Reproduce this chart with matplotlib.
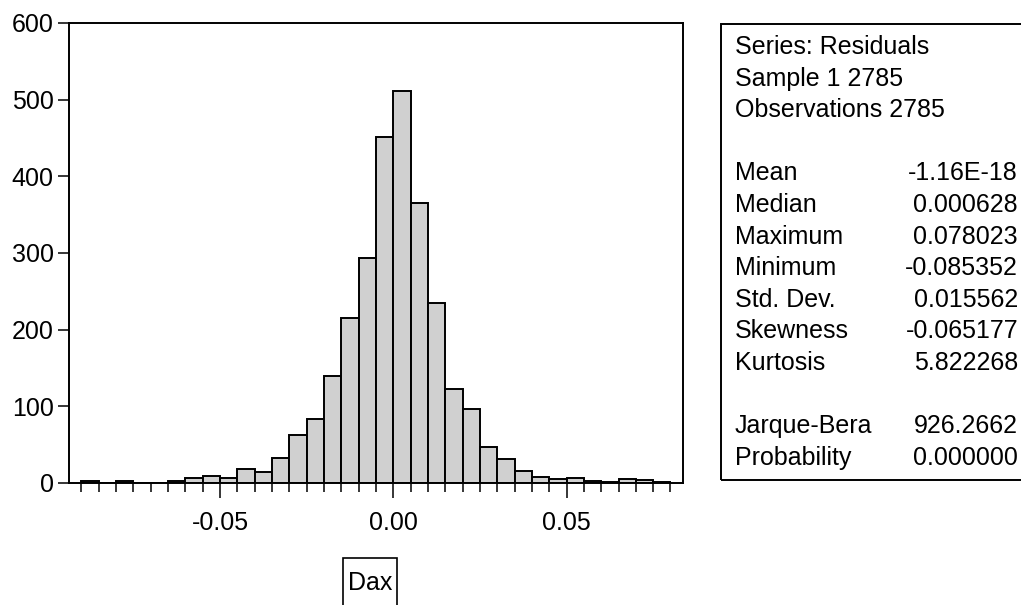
import numpy as np
import matplotlib.pyplot as plt
from matplotlib.patches import Rectangle

plt.rcParams['font.family'] = ['Liberation Sans', 'DejaVu Sans']

# histogram of residuals, bins of 0.005 starting at -0.09
bin_start = -0.09
bin_width = 0.005
counts = [2, 0, 2, 0, 0, 3, 7, 9, 7, 18,
          15, 33, 62, 83, 140, 215, 294, 451, 511, 365,
          235, 122, 97, 47, 31, 16, 8, 5, 7, 2,
          1, 5, 4, 1]

xticks = [-0.05, 0.0, 0.05]
xtick_labels = ['-0.05', '0.00', '0.05']
yticks = [0, 100, 200, 300, 400, 500, 600]

stat_names = ['Mean', 'Median', 'Maximum', 'Minimum', 'Std. Dev.',
              'Skewness', 'Kurtosis']
stat_values = ['-1.16E-18', '0.000628', '0.078023', '-0.085352',
               '0.015562', '-0.065177', '5.822268']
test_names = ['Jarque-Bera', 'Probability']
test_values = ['926.2662', '0.000000']
header = ['Series: Residuals', 'Sample 1 2785', 'Observations 2785']

W, H = 1021, 605
fig = plt.figure(figsize=(W / 100, H / 100), dpi=100)
ax = fig.add_axes([69 / W, 1 - 483 / H, (683.3 - 69) / W, (483 - 23) / H])

edges = bin_start + bin_width * np.arange(len(counts) + 1)
ax.bar(edges[:-1], counts, width=bin_width, align='edge',
       color='#d0d0d0', edgecolor='black', linewidth=1.4)

ax.set_xlim(-0.0936, 0.0837)
ax.set_ylim(0, 600)
ax.set_yticks(yticks)
ax.set_xticks(xticks)
ax.set_xticklabels(xtick_labels)
ax.set_xticks(edges, minor=True)
ax.tick_params(axis='both', labelsize=18, width=1.1, color='black')
ax.tick_params(axis='y', length=8, pad=3)
ax.tick_params(axis='x', which='major', length=11, pad=9)
ax.tick_params(axis='x', which='minor', length=6.5, width=1.1)
for s in ax.spines.values():
    s.set_linewidth(1.4)

# statistics panel on the right
fig.patches.append(Rectangle((721 / W, 1 - 480 / H), 0.4, (480 - 24) / H,
                             transform=fig.transFigure, fill=False,
                             edgecolor='black', linewidth=1.4))
lines = header + [None] + list(zip(stat_names, stat_values)) + [None] + list(zip(test_names, test_values))
for i, item in enumerate(lines):
    if item is None:
        continue
    y = 1 - (47 + i * 31.6) / H
    if isinstance(item, str):
        fig.text(735 / W, y, item, fontsize=18, va='center', ha='left')
    else:
        fig.text(735 / W, y, item[0], fontsize=18, va='center', ha='left')
        fig.text(1018 / W, y, item[1], fontsize=18, va='center', ha='right')

# series name box
fig.patches.append(Rectangle((343 / W, -0.02), 54 / W, 0.02 + 47 / H,
                             transform=fig.transFigure, fill=False,
                             edgecolor='black', linewidth=1.2))
fig.text(370 / W, 1 - 583 / H, 'Dax', fontsize=18, ha='center', va='center')

fig.savefig('out.png', dpi=100)
